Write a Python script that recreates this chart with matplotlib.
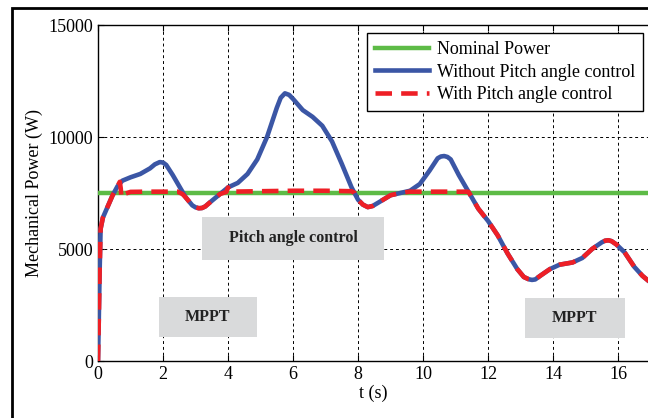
import numpy as np
import matplotlib
matplotlib.use('Agg')
import matplotlib.pyplot as plt
from matplotlib.patches import Rectangle

plt.rcParams['font.family'] = ['Liberation Serif', 'DejaVu Serif']

# power without pitch angle control (W) vs time (s)
t_without = [0.0, 0.02, 0.05, 0.08, 0.15, 0.3, 0.45, 0.6, 0.75, 1.0, 1.3, 1.6, 1.75, 1.9, 2.0,
             2.1, 2.3, 2.5, 2.7, 2.9, 3.0, 3.1, 3.2, 3.3, 3.5, 3.75, 4.0, 4.3, 4.6, 4.9, 5.2,
             5.5, 5.62, 5.75, 5.88, 6.0, 6.3, 6.6, 6.9, 7.2, 7.5, 7.8, 8.0, 8.15, 8.3, 8.45, 8.6, 9.0, 9.3,
             9.6, 9.9, 10.2, 10.45, 10.55, 10.65, 10.75, 10.85, 11.1, 11.4, 11.7, 12.0, 12.3, 12.6,
             12.9, 13.1, 13.25, 13.35, 13.45, 13.6, 13.9, 14.2, 14.6, 14.9, 15.2, 15.5, 15.6, 15.7, 15.8, 15.95,
             16.2, 16.5, 16.75, 17.0]
p_without = [0, 1500, 4000, 5900, 6400, 6900, 7400, 7800, 8050, 8200, 8350, 8600, 8780, 8880, 8860,
             8750, 8300, 7800, 7300, 6950, 6860, 6820, 6830, 6900, 7150, 7450, 7750, 7950, 8350, 9000, 10000,
             11300, 11750, 11950, 11880, 11700, 11200, 10900, 10500, 9800, 8800, 7750, 7200, 6980, 6870, 6920, 7050, 7400, 7500,
             7600, 7900, 8500, 9050, 9130, 9150, 9110, 9000, 8300, 7550, 6800, 6250, 5600, 4800,
             4100, 3750, 3650, 3620, 3640, 3800, 4100, 4300, 4400, 4600, 5000, 5300, 5370, 5390, 5350, 5200,
             4850, 4200, 3800, 3500]

# power with pitch angle control (W)
t_with = [0.0, 0.02, 0.05, 0.08, 0.15, 0.3, 0.45, 0.6, 0.67, 0.7, 0.72, 0.8, 1.0, 1.5,
          2.0, 2.45, 2.6, 2.7, 2.9, 3.0, 3.1, 3.2, 3.3, 3.5, 3.75, 3.95, 4.0, 4.05, 5.0, 6.0, 7.0,
          7.8, 7.9, 8.0, 8.15, 8.3, 8.45, 8.6, 9.0, 9.3, 9.6, 10.0, 11.0, 11.35, 11.4, 11.7, 12.0,
          12.3, 12.6, 12.9, 13.1, 13.25, 13.35, 13.45, 13.6, 13.9, 14.2, 14.6, 14.9, 15.2, 15.5, 15.6,
          15.7, 15.8, 15.95, 16.2, 16.5, 16.75, 17.0]
p_with = [0, 1500, 4000, 5900, 6400, 6900, 7400, 7800, 8000, 7700, 7300, 7450, 7550, 7560,
          7560, 7560, 7450, 7300, 6950, 6860, 6820, 6830, 6900, 7150, 7450, 7550, 7750, 7560, 7580, 7600, 7600,
          7580, 7500, 7200, 6980, 6870, 6920, 7050, 7400, 7500, 7560, 7560, 7560, 7560, 7550, 6800, 6250,
          5600, 4800, 4100, 3750, 3650, 3620, 3640, 3800, 4100, 4300, 4400, 4600, 5000, 5300, 5370,
          5390, 5350, 5200, 4850, 4200, 3800, 3500]

nominal = 7500
x_ticks = [0, 2, 4, 6, 8, 10, 12, 14, 16]
y_ticks = [0, 5000, 10000, 15000]

fig = plt.figure(figsize=(6.48, 4.18), dpi=100)
ax = fig.add_axes([98 / 648, 1 - 361 / 418, 1 - 98 / 648, (361 - 25) / 418])

ax.axhline(nominal, color='#5dbb46', lw=3.2, label='Nominal Power', zorder=3)
ax.plot(t_without, p_without, color='#3b56a5', lw=3.3, label='Without Pitch angle control',
        zorder=4, solid_joinstyle='round')
ax.plot(t_with, p_with, color='#ee1f26', lw=3.3, ls=(0, (3.6, 2.0)), label='With Pitch angle control',
        zorder=5, dash_joinstyle='round')

ax.set_xlim(0, 16.92)
ax.set_ylim(0, 15000)
ax.set_xticks(x_ticks)
ax.set_yticks(y_ticks)
ax.grid(True, color='black', ls=(0, (3, 3)), lw=0.7)
ax.tick_params(direction='in', labelsize=13, length=4, width=0.8, top=True)
ax.spines['right'].set_visible(False)
for s in ['left', 'bottom', 'top']:
    ax.spines[s].set_linewidth(1.0)

ax.set_xlabel('t (s)', fontsize=13, labelpad=1)
ax.set_ylabel('Mechanical Power (W)', fontsize=13, labelpad=4)

# annotation boxes
boxes = [(3.2, 4510, 5.6, 1920, 'Pitch angle control'),
         (1.88, 1070, 3.0, 1790, 'MPPT'),
         (13.14, 1030, 3.06, 1780, 'MPPT')]
for x0, y0, w, h, txt in boxes:
    ax.add_patch(Rectangle((x0, y0), w, h, facecolor='#d9dadb', edgecolor='none', zorder=6))
    ax.text(x0 + w / 2, y0 + h / 2, txt, ha='center', va='center', fontsize=11.5,
            fontweight='bold', color='#222222', zorder=7)

leg = ax.legend(loc='upper right', bbox_to_anchor=(0.991, 0.976), fontsize=13, frameon=True,
                fancybox=False, edgecolor='black', framealpha=1, handlelength=3.0,
                handletextpad=0.4, borderpad=0.45, labelspacing=0.3, borderaxespad=0)
leg.get_frame().set_linewidth(1.0)
leg.set_zorder(10)

# figure border (cropped at right and bottom)
fig.patches.append(Rectangle((12 / 648, -0.2), 1.2, 1.2 - 8 / 418, transform=fig.transFigure,
                             fill=False, edgecolor='black', lw=2.0))

fig.savefig('out.png', dpi=100)
